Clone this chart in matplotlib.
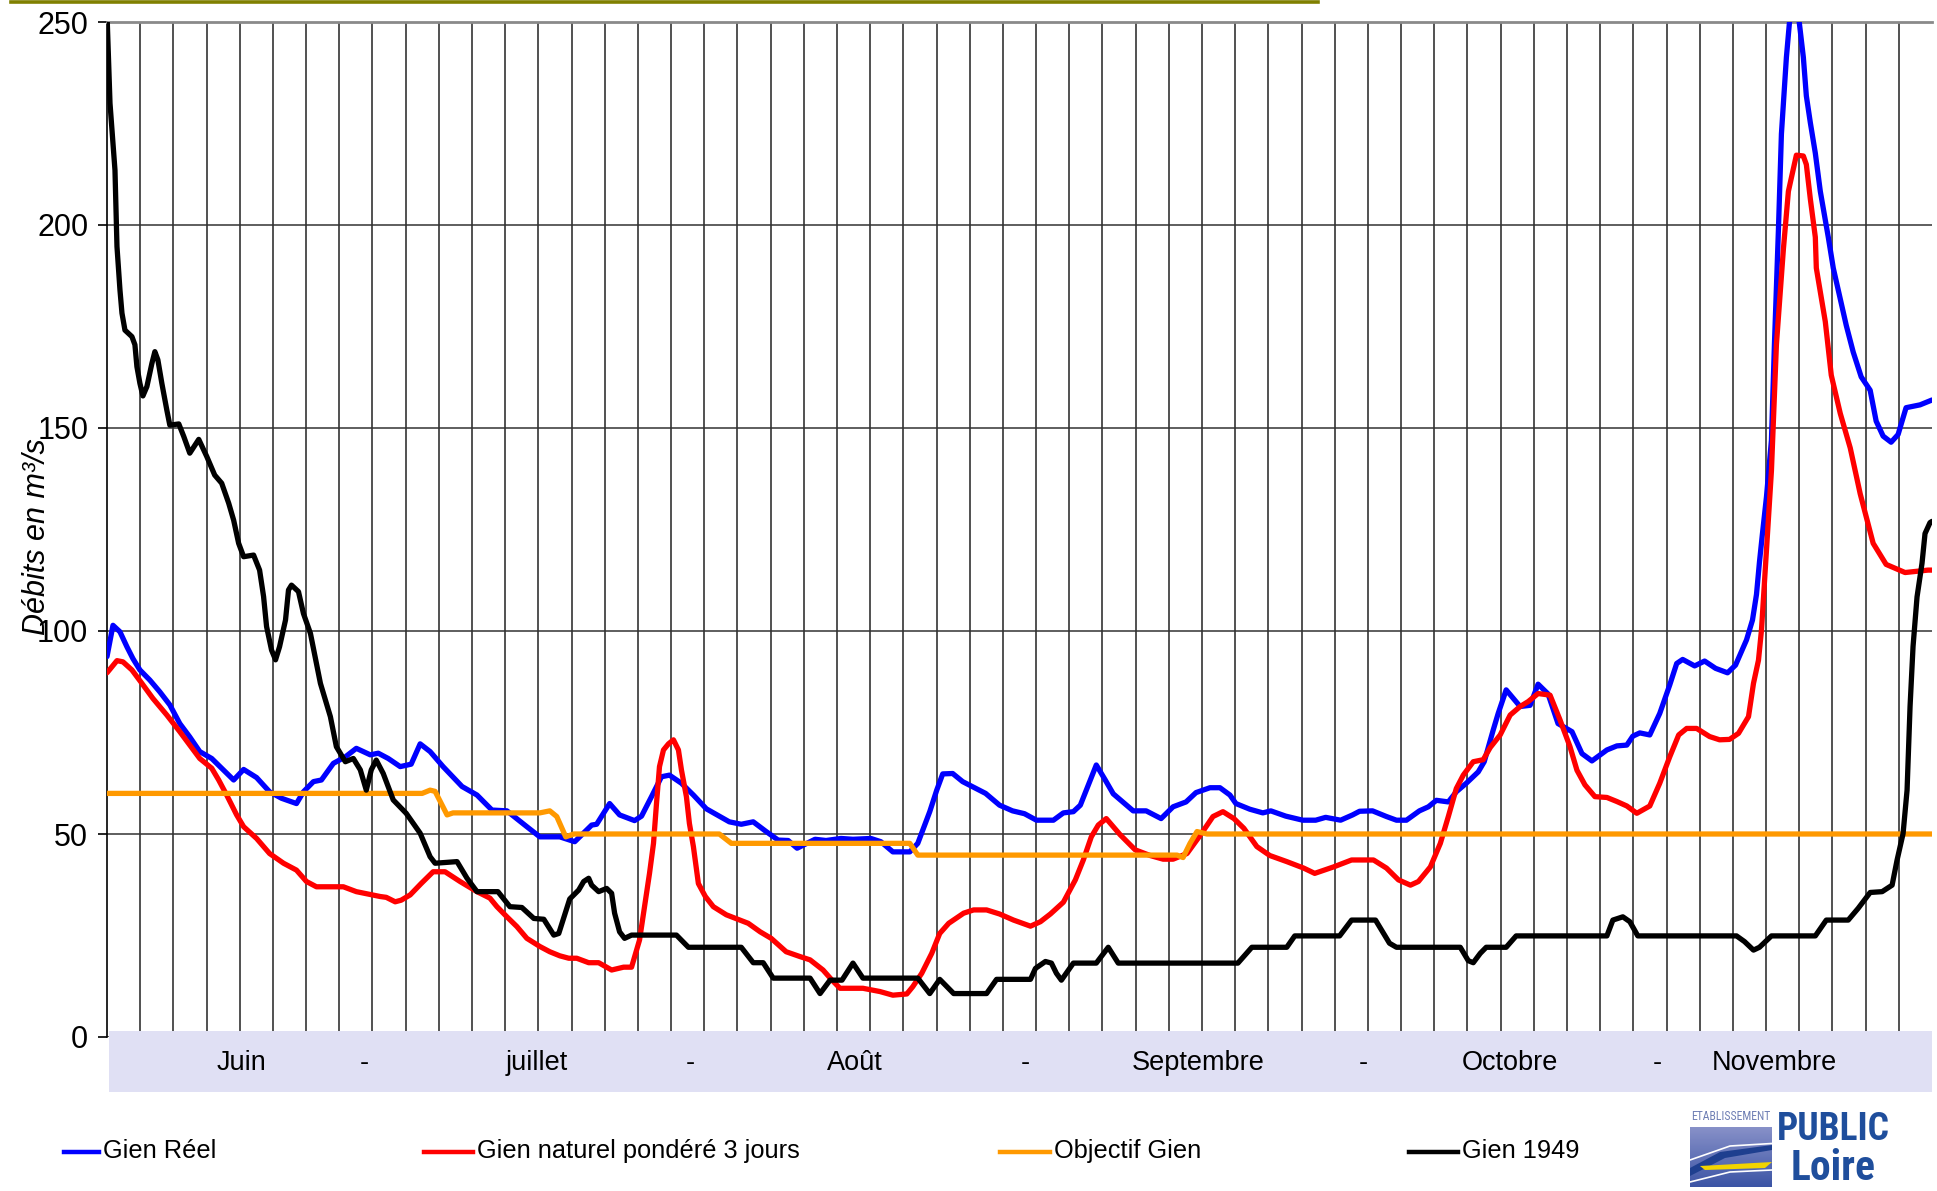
import numpy as np
import matplotlib
matplotlib.use("Agg")
import matplotlib.pyplot as plt
from matplotlib.patches import Rectangle, Polygon
from matplotlib.lines import Line2D
from matplotlib import font_manager

plt.rcParams['font.family'] = ['Liberation Sans', 'DejaVu Sans']

# ---- data (day 0 = 1er juin) ----
reel_d = [0, 0.6, 1.3, 2.0, 2.6, 3.3, 4.3, 5.3, 6.3, 7.3, 8.3, 9.3, 10.5, 11.7, 12.7, 13.7, 15.0, 16.3, 17.5, 19.0,
          19.7, 20.7, 21.5, 22.7, 23.9, 25.0, 26.4, 27.2, 28.2, 29.4, 30.5, 31.4, 32.4, 33.7, 35.6, 37.1, 38.6, 40.1,
          42.1, 43.4, 45.4, 46.9, 48.6, 49.1, 50.4, 51.4, 52.9, 53.6, 54.6, 55.6, 56.4, 57.6, 58.8, 60.1, 61.4, 62.4,
          63.6, 64.8, 66.1, 67.3, 68.3, 69.2, 71.0, 72.1, 73.6, 74.8, 76.6, 77.6, 78.8, 80.5, 81.3, 82.5, 83.2, 83.8,
          84.8, 85.8, 87.0, 88.1, 89.5, 90.8, 92.0, 93.2, 94.9, 95.9, 96.9, 97.6, 98.6, 99.2, 100.1, 100.9, 102.9,
          104.2, 105.7, 106.9, 108.2, 109.2, 110.6, 111.6, 112.6, 113.2, 114.6, 115.9, 116.7, 118.2, 119.9, 121.2,
          122.2, 123.7, 124.9, 125.6, 126.9, 128.3, 129.3, 130.3, 131.6, 132.5, 133.3, 134.5, 135.3, 136.3, 137.5,
          138.1, 139.0, 139.5, 140.3, 141.7, 142.7, 143.5, 144.5, 145.5, 146.9, 147.9, 148.9, 150.4, 151.4, 152.4,
          153.0, 153.7, 154.7, 155.7, 156.7, 157.4, 158.0, 159.2, 160.2, 161.3, 162.5, 163.3, 164.4, 165.0, 165.4,
          165.7, 166.0, 166.4, 166.9, 167.2, 167.6, 167.9, 168.4, 168.7, 169.2, 169.7, 170.1, 170.4, 170.8, 171.3,
          171.8, 172.6, 173.1, 174.4, 175.1, 175.9, 176.8, 177.4, 178.1, 178.9, 179.6, 180.4, 181.8, 183.0]
reel_v = [93.7, 101.4, 99.8, 96.1, 93.2, 90.4, 87.9, 85.0, 81.8, 77.2, 73.9, 70.3, 68.6, 65.7, 63.3, 65.9, 63.9, 60.4,
          58.8, 57.5, 60.4, 62.9, 63.3, 67.4, 69.0, 71.1, 69.5, 69.9, 68.6, 66.6, 67.2, 72.2, 70.3, 66.6, 61.7, 59.6,
          55.9, 55.7, 51.8, 49.3, 49.3, 48.1, 52.2, 52.4, 57.5, 54.7, 53.3, 54.4, 59.2, 64.1, 64.5, 62.5, 59.6, 56.2,
          54.4, 53.0, 52.4, 53.0, 50.6, 48.5, 48.4, 46.5, 48.7, 48.4, 48.9, 48.7, 48.9, 48.1, 45.6, 45.6, 47.7, 55.5,
          60.8, 64.8, 64.9, 62.9, 61.4, 60.0, 57.1, 55.7, 55.0, 53.4, 53.4, 55.2, 55.5, 57.1, 63.3, 67.0, 63.3, 59.9,
          55.7, 55.7, 53.8, 56.7, 57.9, 60.2, 61.4, 61.4, 59.6, 57.5, 56.1, 55.2, 55.7, 54.4, 53.4, 53.4, 54.1, 53.4,
          54.7, 55.6, 55.7, 54.3, 53.4, 53.4, 55.7, 56.7, 58.3, 57.9, 60.4, 62.5, 65.3, 67.8, 75.6, 79.7, 85.5, 81.4,
          81.7, 86.9, 84.5, 77.2, 75.2, 69.8, 68.0, 70.7, 71.7, 71.9, 74.1, 74.9, 74.4, 79.7, 86.7, 92.0, 93.0, 91.4,
          92.6, 90.8, 89.7, 91.6, 97.8, 102.7, 109.0, 117.0, 124.0, 133.0, 147.0, 170.6, 198.8, 222.4, 241.3, 249.7,
          258.0, 249.7, 241.3, 231.8, 225.2, 217.7, 208.3, 197.0, 189.4, 175.3, 168.7, 162.6, 159.3, 151.7, 148.0,
          146.5, 148.4, 155.0, 155.7, 156.9]

naturel_d = [0, 1.0, 1.6, 2.5, 3.5, 4.6, 6.0, 7.3, 8.3, 9.3, 10.5, 11.2, 12.0, 13.0, 13.7, 15.0, 16.3, 17.7, 19.0, 20.0,
             21.0, 23.7, 25.0, 27.4, 28.0, 28.9, 29.5, 30.4, 31.5, 32.7, 33.9, 35.4, 37.1, 38.4, 39.1, 40.1, 41.1, 42.1,
             43.4, 44.4, 45.4, 46.3, 47.1, 48.3, 49.3, 50.6, 51.8, 52.6, 53.4, 53.9, 54.4, 54.8, 55.1, 55.4, 55.8, 56.3,
             56.8, 57.3, 57.6, 58.1, 58.4, 58.8, 59.3, 60.0, 60.8, 62.1, 64.3, 65.5, 66.6, 68.1, 69.5, 70.5, 71.8, 72.7,
             73.5, 75.8, 77.5, 78.8, 80.2, 80.8, 81.7, 82.7, 83.5, 84.4, 85.9, 86.9, 88.2, 89.5, 90.9, 92.6, 93.6, 94.6,
             95.9, 97.1, 97.9, 98.7, 99.4, 100.2, 101.6, 103.1, 104.6, 105.9, 106.9, 108.3, 109.6, 110.9, 111.9, 113.0,
             114.0, 115.3, 116.6, 118.3, 120.0, 121.1, 123.0, 124.8, 127.0, 128.3, 129.5, 130.7, 131.5, 132.7, 133.7,
             134.5, 135.3, 136.0, 137.0, 138.0, 138.7, 139.7, 140.7, 141.7, 142.5, 143.5, 144.7, 145.7, 146.7, 147.4,
             148.2, 149.2, 150.4, 151.4, 152.4, 153.4, 154.7, 155.7, 156.7, 157.6, 158.4, 159.4, 160.7, 161.7, 162.7,
             163.6, 164.6, 165.1, 165.6, 165.9, 166.3, 166.6, 166.9, 167.4, 168.1, 168.6, 169.1, 169.4, 170.1, 170.4,
             170.8, 171.3, 171.4, 172.3, 172.9, 173.8, 174.8, 175.8, 176.4, 177.1, 178.4, 180.3, 182.6, 183.0]
naturel_v = [89.7, 92.7, 92.4, 90.4, 87.1, 83.4, 79.3, 75.2, 71.9, 68.6, 66.2, 63.3, 59.6, 54.7, 51.8, 48.9, 45.2, 42.8,
             41.1, 38.3, 37.0, 37.0, 35.8, 34.6, 34.4, 33.3, 33.7, 35.0, 37.8, 40.7, 40.7, 38.3, 35.8, 34.2, 32.1, 29.6,
             27.2, 24.3, 22.3, 21.0, 20.0, 19.4, 19.4, 18.3, 18.3, 16.5, 17.2, 17.2, 23.9, 32.1, 40.3, 47.7, 57.5, 66.6,
             70.7, 72.2, 73.2, 70.7, 65.8, 59.2, 52.6, 46.9, 37.8, 34.6, 32.1, 30.1, 28.0, 25.9, 24.3, 21.0, 19.8, 19.0,
             16.5, 14.0, 12.0, 12.0, 11.2, 10.3, 10.6, 12.4, 15.7, 20.6, 25.5, 28.0, 30.5, 31.3, 31.3, 30.3, 28.8, 27.3,
             28.4, 30.3, 33.2, 38.7, 43.6, 49.3, 52.2, 53.8, 49.8, 46.1, 44.7, 43.8, 43.8, 45.2, 49.6, 54.3, 55.5, 53.8,
             51.4, 46.9, 44.7, 43.2, 41.6, 40.3, 41.9, 43.6, 43.6, 41.6, 38.7, 37.4, 38.3, 41.9, 47.7, 54.3, 61.2, 64.5,
             67.8, 68.3, 71.3, 74.4, 79.3, 81.4, 82.6, 84.6, 84.2, 78.1, 71.5, 65.7, 62.1, 59.2, 59.0, 58.0, 56.9, 55.1,
             56.9, 62.5, 69.0, 74.4, 76.0, 76.0, 74.0, 73.2, 73.3, 74.8, 78.9, 87.1, 92.8, 100.2, 116.0, 128.0, 139.5,
             170.6, 194.1, 208.3, 213.9, 217.2, 217.0, 214.9, 206.4, 197.0, 189.4, 176.2, 163.0, 153.6, 145.1, 133.8,
             128.2, 121.6, 116.4, 114.4, 115.0, 115.0]

objectif_d = [0, 31.6, 32.4, 32.9, 34.1, 34.7, 43.4, 44.4, 45.1, 46.0, 46.8, 61.4, 62.6, 80.5, 81.3, 107.3, 107.9,
              108.6, 109.3, 110.3, 183.0]
objectif_v = [60, 60, 60.8, 60.5, 54.7, 55.2, 55.2, 55.7, 54.3, 49.3, 50, 50, 47.7, 47.7, 44.8, 44.8, 44.2, 47.7,
              50.6, 50, 50]

g1949_d = [0, 0.3, 0.5, 0.8, 1.0, 1.3, 1.5, 1.8, 2.5, 2.8, 3.0, 3.3, 3.6, 4.0, 4.5, 4.8, 5.1, 5.5, 6.0, 6.3, 7.2, 7.7,
           8.3, 9.2, 10.0, 10.8, 11.5, 12.2, 12.7, 13.2, 13.7, 14.7, 15.3, 15.7, 16.0, 16.5, 16.9, 17.3, 17.9, 18.2,
           18.5, 19.2, 19.7, 20.4, 21.4, 22.4, 23.0, 23.9, 24.7, 25.4, 26.0, 26.5, 27.0, 27.7, 28.7, 30.0, 31.4, 32.4,
           32.9, 35.1, 36.1, 37.1, 39.2, 40.4, 41.6, 42.8, 43.8, 44.8, 45.3, 46.4, 47.3, 47.8, 48.3, 48.6, 49.3, 50.1,
           50.6, 50.9, 51.4, 51.9, 52.6, 57.1, 58.3, 63.6, 64.8, 65.8, 66.8, 70.5, 71.5, 72.5, 73.7, 74.8, 75.8, 81.3,
           82.5, 83.5, 84.9, 88.2, 89.2, 92.6, 93.1, 94.1, 94.7, 95.2, 95.7, 96.9, 99.2, 100.4, 101.4, 113.4, 114.8,
           118.3, 119.1, 123.6, 124.8, 127.2, 128.6, 129.3, 135.7, 136.5, 137.0, 137.7, 138.3, 140.3, 141.3, 150.4,
           151.0, 152.0, 152.7, 153.5, 163.4, 164.2, 165.1, 165.7, 166.9, 171.3, 172.4, 174.6, 175.6, 176.8, 178.0,
           179.0, 179.5, 180.1, 180.5, 180.8, 181.1, 181.5, 182.0, 182.3, 182.8, 183.0]
g1949_v = [252, 230.0, 223.4, 213.5, 194.7, 184.0, 178.3, 174.1, 172.5, 170.5, 165.1, 161.0, 157.9, 160.2, 165.9, 168.8,
           166.8, 161.0, 154.4, 150.7, 151.0, 147.9, 143.8, 147.2, 143.0, 138.4, 136.4, 131.5, 127.3, 121.6, 118.3,
           118.7, 115.0, 108.5, 101.1, 95.3, 92.9, 96.1, 102.7, 110.1, 111.3, 109.7, 104.3, 99.4, 87.1, 78.9, 71.5,
           67.8, 68.6, 65.8, 60.8, 65.8, 68.2, 64.9, 58.4, 55.1, 50.2, 44.4, 42.8, 43.2, 39.1, 35.8, 35.8, 32.1, 31.9,
           29.2, 29.0, 25.1, 25.5, 34.0, 36.2, 38.3, 39.1, 37.4, 35.8, 36.6, 35.4, 30.5, 25.9, 24.3, 25.1, 25.1, 22.1,
           22.1, 18.3, 18.3, 14.5, 14.5, 10.7, 14.0, 14.0, 18.2, 14.5, 14.5, 10.7, 14.2, 10.7, 10.7, 14.2, 14.2, 16.9,
           18.6, 18.2, 15.7, 14.0, 18.2, 18.2, 22.1, 18.2, 18.2, 22.1, 22.1, 24.9, 24.9, 28.8, 28.8, 23.1, 22.1, 22.1,
           18.8, 18.3, 20.6, 22.1, 22.1, 24.9, 24.9, 28.8, 29.6, 28.4, 24.9, 24.9, 23.5, 21.4, 22.1, 24.9, 24.9, 28.8,
           28.8, 31.7, 35.6, 35.8, 37.4, 43.6, 50.1, 60.8, 81.4, 96.2, 108.4, 116.7, 124.0, 126.7, 127.0]

series_names = ['Gien Réel', 'Gien naturel pondéré 3 jours', 'Objectif Gien', 'Gien 1949']
series_colors = ['#0000FF', '#FF0000', '#FF9900', '#000000']
month_labels = ['Juin', '-', 'juillet', '-', 'Août', '-', 'Septembre', '-', 'Octobre', '-', 'Novembre']
n_days = 183
n_grid = 55

W, H = 1937, 1191
fig = plt.figure(figsize=(W / 100, H / 100), dpi=100)
ax = fig.add_axes([107 / W, 1 - 1037 / H, (1932 - 107) / W, (1037 - 22) / H])
ax.set_xlim(0, n_days)
ax.set_ylim(0, 250)

series = [(reel_d, reel_v), (naturel_d, naturel_v), (objectif_d, objectif_v), (g1949_d, g1949_v)]
for i in [2, 3, 1, 0]:
    d, v = series[i]
    ax.plot(d, v, color=series_colors[i], lw=3.8, solid_joinstyle='round', solid_capstyle='round',
            zorder=3 + i * 0.1)

# grille
ax.set_yticks(np.arange(0, 251, 50))
ax.set_xticks(np.arange(1, n_grid) * n_days / n_grid)
ax.xaxis.grid(True, color='#222222', lw=1.1)
ax.yaxis.grid(True, color='#333333', lw=1.1)
ax.set_axisbelow(True)
ax.tick_params(axis='x', length=0, labelbottom=False)
ax.tick_params(axis='y', length=6.5, width=1.2, direction='out', pad=7, labelsize=22)
for s in ['right', 'bottom']:
    ax.spines[s].set_visible(False)
ax.spines['top'].set_color('#8a8a8a')
ax.spines['top'].set_linewidth(2)
ax.spines['left'].set_linewidth(1.2)

fig.text(37 / W, 1 - 537 / H, 'Débits en m³/s', rotation=90, style='italic', fontsize=22,
         ha='center', va='center')

# bandeau des mois
fig.add_artist(Rectangle((109 / W, 1 - 1092 / H), (1932 - 109) / W, (1092 - 1031) / H,
                         transform=fig.transFigure, fc='#E0E0F4', ec='none', zorder=5))
month_x = [241, 364, 537, 690, 855, 1025, 1198, 1363, 1510, 1657, 1774]
for lab, x in zip(month_labels, month_x):
    fig.text(x / W, 1 - 1063 / H, lab, fontsize=19.5, ha='center', va='center', zorder=6)

# ligne olive en haut
fig.add_artist(Line2D([11 / W, 1318 / W], [1 - 1.5 / H] * 2, color='#808000', lw=2.6,
                      transform=fig.transFigure))

# légende
leg_x = [(64, 99), (424, 473), (1000, 1050), (1409, 1458)]
for (x0, x1), name, col in zip(leg_x, series_names, series_colors):
    fig.add_artist(Line2D([x0 / W, x1 / W], [1 - 1152 / H] * 2, color=col, lw=3.2,
                          transform=fig.transFigure))
    fig.text((x1 + 4) / W, 1 - 1151 / H, name, fontsize=18.3, ha='left', va='center')

# logo
narrow = 'Liberation Sans'
for cand in ['Liberation Sans Narrow', 'Roboto Condensed', 'DejaVu Sans Condensed', 'Open Sans Condensed']:
    try:
        font_manager.findfont(font_manager.FontProperties(family=cand), fallback_to_default=False)
        narrow = cand
        break
    except Exception:
        pass

lax = fig.add_axes([0, 0, 1, 1], zorder=10)
lax.axis('off')
grad = np.linspace(0, 1, 50)[:, None]
cm = matplotlib.colors.LinearSegmentedColormap.from_list('l', ['#8790c8', '#3c55a5'])
lax.imshow(grad, cmap=cm, extent=[1690, 1772, 1187, 1127], aspect='auto', zorder=1)
lax.add_patch(Polygon([[1690, 1168], [1720, 1152], [1772, 1145], [1772, 1150], [1725, 1158], [1690, 1176]],
                      fc='#1e3f8f', ec='none', zorder=2))
lax.add_patch(Polygon([[1700, 1166], [1772, 1162], [1765, 1168], [1705, 1170]], fc='#f2d400', ec='none', zorder=3))
lax.plot([1690, 1730, 1780], [1160, 1146, 1143], color='white', lw=1.2, zorder=3)
lax.plot([1690, 1730, 1772], [1182, 1172, 1170], color='white', lw=1.2, zorder=3)
lax.set_xlim(0, W)
lax.set_ylim(H, 0)
lax.text(1731, 1116, 'ETABLISSEMENT', family=narrow, fontsize=8.5, color='#6f7fb4', ha='center', va='center')
lax.text(1833, 1129, 'PUBLIC', family=narrow, weight='bold', fontsize=27, color='#1f4e9c',
         ha='center', va='center')
lax.text(1833, 1168, 'Loire', family=narrow, weight='bold', fontsize=30, color='#1f4e9c',
         ha='center', va='center')

fig.savefig('out.png', dpi=100)
